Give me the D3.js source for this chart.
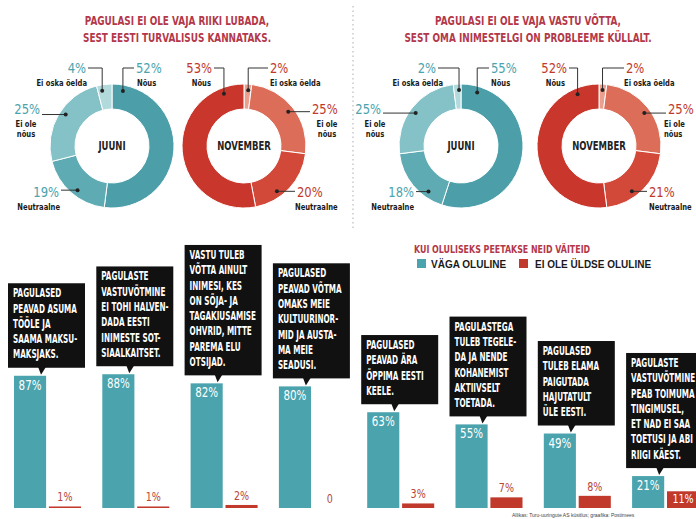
<!DOCTYPE html>
<html><head><meta charset="utf-8">
<script src="https://cdn.jsdelivr.net/npm/d3@7"></script>
<style>body{margin:0;background:#fff;} svg{display:block}</style>
</head><body>
<script>
// ---------- DATA ----------
const donutCategories = ["Nõus", "Neutraalne", "Ei ole nõus", "Ei oska öelda"];
const question1 = ["PAGULASI EI OLE VAJA RIIKI LUBADA,", "SEST EESTI TURVALISUS KANNATAKS."];
const question2 = ["PAGULASI EI OLE VAJA VASTU VÕTTA,", "SEST OMA INIMESTELGI ON PROBLEEME KÜLLALT."];
const months = ["JUUNI", "NOVEMBER"];
const q1Juuni = [52, 19, 25, 4];
const q1November = [53, 20, 25, 2];
const q2Juuni = [55, 18, 25, 2];
const q2November = [52, 21, 25, 2];

const statements = [
  "PAGULASED|PEAVAD ASUMA|TÖÖLE JA|SAAMA MAKSU-|MAKSJAKS.",
  "PAGULASTE|VASTUVÕTMINE|EI TOHI HALVEN-|DADA EESTI|INIMESTE SOT-|SIAALKAITSET.",
  "VASTU TULEB|VÕTTA AINULT|INIMESI, KES|ON SÕJA- JA|TAGAKIUSAMISE|OHVRID, MITTE|PAREMA ELU|OTSIJAD.",
  "PAGULASED|PEAVAD VÕTMA|OMAKS MEIE|KULTUURINOR-|MID JA AUSTA-|MA MEIE|SEADUSI.",
  "PAGULASED|PEAVAD ÄRA|ÕPPIMA EESTI|KEELE.",
  "PAGULASTEGA|TULEB TEGELE-|DA JA NENDE|KOHANEMIST|AKTIIVSELT|TOETADA.",
  "PAGULASED|TULEB ELAMA|PAIGUTADA|HAJUTATULT|ÜLE EESTI.",
  "PAGULASTE|VASTUVÕTMINE|PEAB TOIMUMA|TINGIMUSEL,|ET NAD EI SAA|TOETUSI JA ABI|RIIGI KÄEST."
];
const veryImportant = [87, 88, 82, 80, 63, 55, 49, 21];
const notImportant = [1, 1, 2, 0, 3, 7, 8, 11];
const seriesNames = ["VÄGA OLULINE", "EI OLE ÜLDSE OLULINE"];
const legendTitle = "KUI OLULISEKS PEETAKSE NEID VÄITEID";
const sourceNote = "Allikas: Turu-uuringute AS küsitlus; graafika: Postimees";

// ---------- STYLE ----------
const W = 696, H = 519;
const NARROW = "'DejaVu Sans Condensed','Liberation Sans Narrow',sans-serif";
const SANS = "'Liberation Sans','DejaVu Sans',sans-serif";
const TEAL = "#4aa3ad", RED = "#c0392b", TITLE = "#b3384a";
const tealShades = ["#4c9fa9", "#5eabb4", "#84c2c8", "#b2d9dc"];
const redShades = ["#c9372c", "#d2493a", "#dc6d59", "#eba08f"];

const svg = d3.select("body").append("svg").attr("width", W).attr("height", H);

// condensed text helper (horizontal squeeze)
function T(parent, x, y, txt, o) {
  return parent.append("text")
    .attr("transform", `translate(${x},${y}) scale(${o.sx || 1},1)`)
    .attr("text-anchor", o.anchor || "start")
    .attr("font-family", o.family || NARROW)
    .attr("font-weight", o.weight || "normal")
    .attr("font-size", o.size)
    .attr("fill", o.fill || "#1a1a1a")
    .text(txt);
}

// separator
svg.append("line").attr("x1", 353).attr("x2", 353).attr("y1", 6).attr("y2", 228)
  .attr("stroke", "#bbb").attr("stroke-width", 1.2).attr("stroke-dasharray", "1.5,3");

// titles
[[question1, 177], [question2, 528]].forEach(([lines, cx]) => {
  lines.forEach((t, i) => T(svg, cx, 25 + i * 17, t,
    { anchor: "middle", weight: "bold", size: 11.5, fill: TITLE, sx: 0.86 }));
});

// ---------- DONUTS ----------
const CY = 146, R_IN = 37, R_OUT = 62, R_DOT = 56;
const donuts = [
  { values: q1Juuni, month: 0, cx: 112, shades: tealShades, color: TEAL, order: [0, 1, 2, 3],
    labels: [
      { kind: "top", frac: 0.06, dx: 24, y: 73, anchor: "start", sdx: 25, sanchor: "start" },
      { kind: "side", frac: 0.45, dx: -53, y: 197, anchor: "end", sdx: -52, sanchor: "end" },
      { kind: "side", frac: 0.54, dx: -72, y: 114, anchor: "end", sdx: -86, sanchor: "middle" },
      { kind: "top", frac: 0.3, dx: -26, y: 73, anchor: "end", sdx: -25, sanchor: "end" } ] },
  { values: q1November, month: 1, cx: 244, shades: redShades, color: RED, order: [3, 2, 1, 0],
    labels: [
      { kind: "top", frac: 0.89, dx: -32, y: 73, anchor: "end", sdx: -33, sanchor: "end" },
      { kind: "side", frac: 0.65, dx: 53, y: 197, anchor: "start", sdx: 51, sanchor: "start" },
      { kind: "side", frac: 0.5, dx: 68, y: 114, anchor: "start", sdx: 83, sanchor: "middle" },
      { kind: "top", frac: 0.6, dx: 26, y: 73, anchor: "start", sdx: 26, sanchor: "start" } ] },
  { values: q2Juuni, month: 0, cx: 461, shades: tealShades, color: TEAL, order: [0, 1, 2, 3],
    labels: [
      { kind: "top", frac: 0.085, dx: 30, y: 73, anchor: "start", sdx: 30, sanchor: "start" },
      { kind: "side", frac: 0.27, dx: -47, y: 197, anchor: "end", sdx: -47, sanchor: "end" },
      { kind: "side", frac: 0.48, dx: -80, y: 114, anchor: "end", sdx: -86, sanchor: "middle" },
      { kind: "top", frac: 0.72, dx: -25, y: 73, anchor: "end", sdx: -18, sanchor: "end" } ] },
  { values: q2November, month: 1, cx: 599, shades: redShades, color: RED, order: [3, 2, 1, 0],
    labels: [
      { kind: "top", frac: 0.88, dx: -32, y: 73, anchor: "end", sdx: -34, sanchor: "end" },
      { kind: "side", frac: 0.62, dx: 50, y: 197, anchor: "start", sdx: 50, sanchor: "start" },
      { kind: "side", frac: 0.52, dx: 69, y: 114, anchor: "start", sdx: 65, sanchor: "start" },
      { kind: "top", frac: 0.5, dx: 27, y: 73, anchor: "start", sdx: 25, sanchor: "start" } ] }
];
const subLines = [["Nõus"], ["Neutraalne"], ["Ei ole", "nõus"], ["Ei oska öelda"]];

const arc = d3.arc().innerRadius(R_IN).outerRadius(R_OUT);

donuts.forEach(d => {
  const g = svg.append("g").attr("transform", `translate(${d.cx},${CY})`);
  const arcs = d3.pie().sort(null).value(k => d.values[k])(d.order);
  g.selectAll("path").data(arcs).join("path")
    .attr("d", arc).attr("fill", a => d.shades[a.data])
    .attr("stroke", "#fff").attr("stroke-width", 1);
  T(g, 0, 4, months[d.month], { anchor: "middle", weight: "bold", size: 11.5, fill: "#222", sx: 0.82 });

  arcs.forEach(a => {
    const k = a.data, L = d.labels[k];
    const ang = a.startAngle + (a.endAngle - a.startAngle) * L.frac;
    const dot = [d.cx + R_DOT * Math.sin(ang), CY - R_DOT * Math.cos(ang)];
    const sx = 0.92;
    const px = d.cx + L.dx;
    const pct = T(svg, px, L.y, d.values[k] + "%", { anchor: L.anchor, size: 14, fill: d.color, sx });
    subLines[k].forEach((s, i) => T(svg, d.cx + L.sdx, L.y + 12.5 + i * 10.5, s,
      { anchor: L.sanchor, weight: "bold", size: 9, fill: "#1a1a1a", sx: 0.84 }));
    const bb = pct.node().getBBox();
    const left = px + bb.x * sx, right = px + (bb.x + bb.width) * sx;
    const ly = L.kind === "top" ? L.y - 5 : dot[1];
    const edge = dot[0] > right ? right + 2 : left - 2;
    const p = L.kind === "top" ? `M${edge},${ly}H${dot[0]}V${dot[1]}` : `M${edge},${ly}H${dot[0]}`;
    svg.append("path").attr("d", p).attr("fill", "none").attr("stroke", "#333").attr("stroke-width", 1);
    svg.append("circle").attr("cx", dot[0]).attr("cy", dot[1]).attr("r", 2).attr("fill", "#222");
  });
});

// ---------- BARS ----------
const x0 = d3.scaleBand().domain(d3.range(statements.length)).range([14, 14 + statements.length * 88.3]);
const x1 = d3.scaleBand().domain([0, 1]).range([0, 67]).paddingInner(0.08);
const y = d3.scaleLinear().domain([0, 100]).range([508, 356]);

const groups = svg.selectAll("g.grp").data(statements.map((s, i) => ({ s, i, v: [veryImportant[i], notImportant[i]] })))
  .join("g").attr("class", "grp").attr("transform", d => `translate(${x0(d.i)},0)`);

groups.each(function (d) {
  const g = d3.select(this);
  g.append("rect").attr("x", x1(0)).attr("y", y(d.v[0])).attr("width", x1.bandwidth())
    .attr("height", y(0) - y(d.v[0])).attr("fill", TEAL);
  T(g, x1(0) + x1.bandwidth() / 2, y(d.v[0]) + 14, d.v[0] + "%",
    { anchor: "middle", size: 13.5, fill: "#fff", sx: 0.85 });
  g.append("rect").attr("x", x1(1)).attr("y", y(d.v[1])).attr("width", x1.bandwidth())
    .attr("height", y(0) - y(d.v[1])).attr("fill", RED);
  const inside = d.v[1] >= 10;
  T(g, x1(1) + x1.bandwidth() / 2, inside ? y(d.v[1]) + 12 : y(d.v[1]) - 5,
    d.v[1] === 0 ? "0" : d.v[1] + "%",
    { anchor: "middle", size: 12.5, fill: inside ? "#fff" : "#b5473a", sx: 0.85 });
  // callout box
  const lines = d.s.split("|");
  const lh = 15.3, bh = lines.length * lh + 8, bottom = y(d.v[0]) - 8, top = bottom - bh;
  const bx = -6, bw = 77;
  g.append("rect").attr("x", bx).attr("y", top).attr("width", bw).attr("height", bh).attr("fill", "#111");
  g.append("path").attr("d", `M${bx + 30},${bottom - 1}L${bx + 38},${bottom - 1}L${bx + 33},${bottom + 7}Z`).attr("fill", "#111");
  lines.forEach((t, i) => T(g, bx + 5, top + 14 + i * lh, t,
    { weight: "bold", size: 11.5, fill: "#fff", sx: 0.7 }));
});

// legend
T(svg, 414, 253, legendTitle, { weight: "bold", size: 10, fill: TITLE, sx: 0.88 });
[[417, 431, TEAL], [519, 535, RED]].forEach(([sx, tx, c], i) => {
  svg.append("rect").attr("x", sx).attr("y", 259).attr("width", 9).attr("height", 9).attr("fill", c);
  T(svg, tx, 268, seriesNames[i], { family: SANS, weight: "bold", size: 10, fill: "#1a1a1a" });
});

T(svg, 512, 517, sourceNote, { family: SANS, size: 5, fill: "#444" });
</script>
</body></html>
